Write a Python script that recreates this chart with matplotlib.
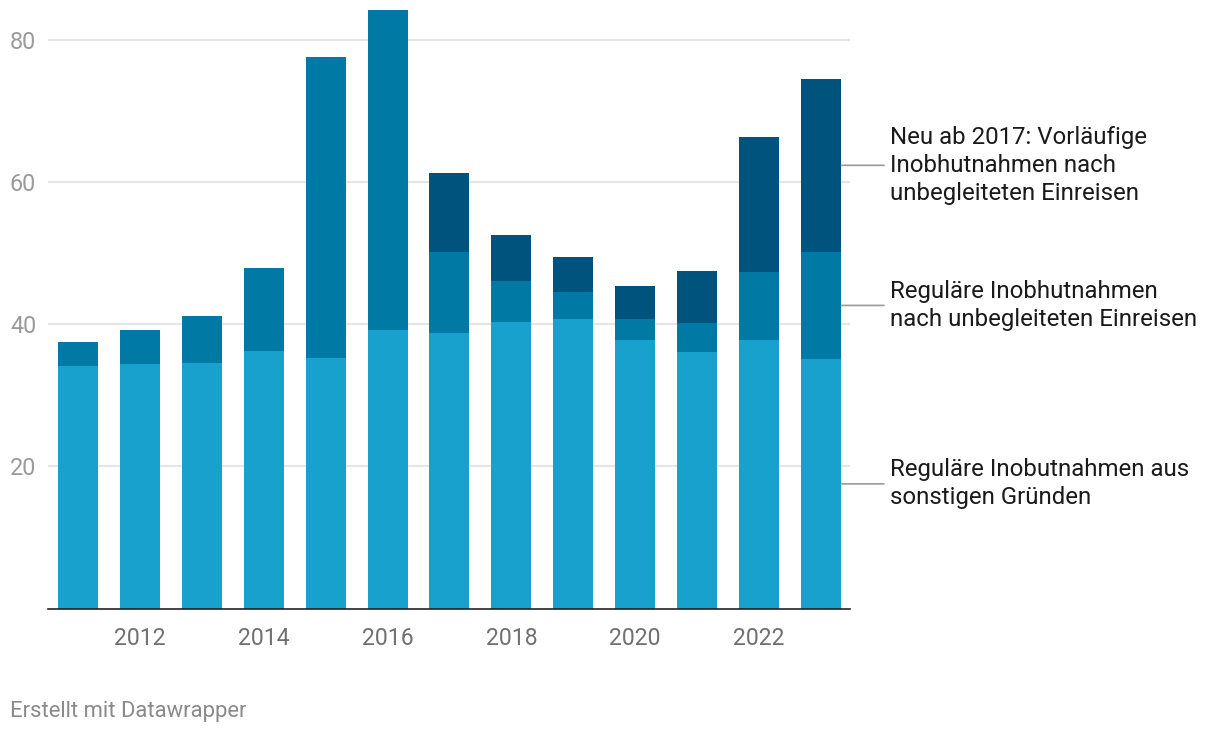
import matplotlib
matplotlib.use("Agg")
from matplotlib import pyplot as plt
import numpy as np

plt.rcParams["font.family"] = ["Roboto", "DejaVu Sans"]

years = [2011, 2012, 2013, 2014, 2015, 2016, 2017, 2018, 2019, 2020, 2021, 2022, 2023]
sonstige = [34.1, 34.4, 34.6, 36.2, 35.3, 39.2, 38.8, 40.3, 40.7, 37.8, 36.1, 37.8, 35.1]
unbegleitet = [3.4, 4.8, 6.6, 11.7, 42.3, 45.0, 11.4, 5.8, 3.8, 2.9, 4.1, 9.6, 15.1]
vorlaeufig = [0, 0, 0, 0, 0, 0, 11.1, 6.5, 5.0, 4.7, 7.3, 18.9, 24.3]

series_labels = [
    "Reguläre Inobutnahmen aus\nsonstigen Gründen",
    "Reguläre Inobhutnahmen\nnach unbegleiteten Einreisen",
    "Neu ab 2017: Vorläufige\nInobhutnahmen nach\nunbegleiteten Einreisen",
]
colors = ["#18a1cd", "#0079a4", "#00537d"]

y_ticks = [20, 40, 60, 80]
x_ticks = [2012, 2014, 2016, 2018, 2020, 2022]

fig = plt.figure(figsize=(12.2, 7.32), dpi=100)
ax = fig.add_axes([48 / 1220, 1 - 608.7 / 732, (850 - 48) / 1220, 608.7 / 732])

width = 0.646
x = np.array(years)
bottom = np.zeros(len(years))
segments = [sonstige, unbegleitet, vorlaeufig]
for vals, col in zip(segments, colors):
    vals = np.array(vals)
    ax.bar(x, vals, width=width, bottom=bottom, color=col, zorder=3, linewidth=0)
    bottom += vals

ax.set_xlim(2010.515, 2023.47)
ax.set_ylim(0, 85.6)

# gridlines
for t in y_ticks:
    ax.axhline(t, color="#e5e5e5", lw=1.5, zorder=1)

ax.set_yticks(y_ticks)
ax.set_yticklabels([str(t) for t in y_ticks])
for lab in ax.get_yticklabels():
    lab.set_horizontalalignment("left")
ax.tick_params(axis="y", length=0, pad=27.4, labelsize=16.8, labelcolor="#9a9a9a")

ax.set_xticks(x_ticks)
ax.set_xticklabels([str(t) for t in x_ticks])
ax.tick_params(axis="x", length=0, pad=13, labelsize=16.6, labelcolor="#707070")

for s in ["top", "right", "left"]:
    ax.spines[s].set_visible(False)
ax.spines["bottom"].set_color("#222222")
ax.spines["bottom"].set_linewidth(1.2)
ax.spines["bottom"].set_zorder(4)

# labels at the right, connected to the middle of each segment of the last bar
last_bottom = 0
bar_right = years[-1] + width / 2
for vals, lab in zip(segments, series_labels):
    mid = last_bottom + vals[-1] / 2
    last_bottom += vals[-1]
    ax.annotate("", xy=(bar_right, mid), xytext=(31, 0), textcoords="offset points",
                arrowprops=dict(arrowstyle="-", color="#999999", lw=1.2,
                                shrinkA=0, shrinkB=0.5),
                annotation_clip=False)
    ax.annotate(lab, xy=(bar_right, mid), xytext=(35, 0), textcoords="offset points",
                ha="left", va="center", fontsize=17.3, color="#1a1a1a",
                linespacing=1.28, annotation_clip=False)

fig.text(10 / 1220, 1 - 711 / 732, "Erstellt mit Datawrapper", fontsize=15.8,
         color="#8a8a8a", ha="left", va="center")

fig.savefig("out.png", dpi=100)
